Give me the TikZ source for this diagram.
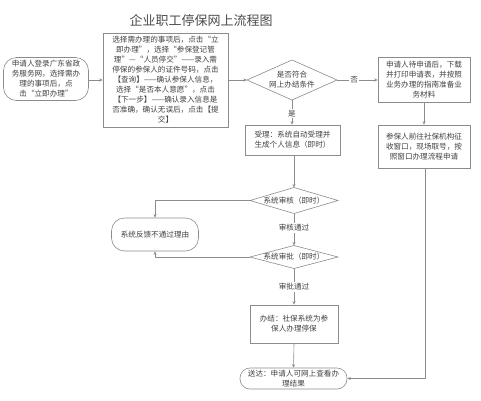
\documentclass[tikz,border=0pt]{standalone}
\usepackage{fontspec}
\setmainfont{Noto Sans CJK SC}
\usetikzlibrary{shapes.geometric,arrows.meta}
\begin{document}
\begin{tikzpicture}[x=1pt,y=-1pt,
  every node/.style={font=\fontsize{7.6}{10}\selectfont, text=black!75, align=center, inner sep=1pt},
  boxnode/.style={draw=black!45, line width=0.6pt, minimum width=#1},
  stadium/.style={draw=black!45, line width=0.6pt, rounded corners=13pt},
  dia/.style={draw=black!45, line width=0.6pt, diamond, inner sep=0pt, outer sep=0pt},
  conn/.style={draw=black!45, line width=0.6pt, -{Stealth[length=3.5pt,width=3pt]}},
  lbl/.style={fill=white, inner sep=1.5pt}]
\useasboundingbox (0,0) rectangle (481,400);
\node[font=\fontsize{13}{15}\selectfont, text=black!70] (title) at (201,20) {企业职工停保网上流程图};

\node[stadium, minimum width=85pt, minimum height=43pt] (n1) at (46,79)
  {申请人登录广东省政\\务服务网，选择需办\\理的事项后，点\\击“立即办理”};
\node[boxnode=125pt, minimum height=94pt] (n2) at (165.5,80)
  {选择需办理的事项后，点击“立\\即办理”，选择“参保登记管\\理”—“人员停交”——录入需\\停保的参保人的证件号码，点击\\【查询】——确认参保人信息，\\选择“是否本人意愿”，点击\\【下一步】——确认录入信息是\\否准确，确认无误后，点击【提\\交】};
\node[dia, minimum width=90pt, minimum height=40pt] (d1) at (292,80) {};
\node (d1t) at (d1.center) {是否符合\\网上办结条件};
\node[boxnode=92pt, minimum height=45pt] (r1) at (424,79.5)
  {申请人待申请后，下载\\并打印申请表，并按照\\业务办理的指南准备业\\务材料};
\node[boxnode=92pt, minimum height=43pt] (r2) at (424,146.5)
  {参保人前往社保机构征\\收窗口，现场取号，按\\照窗口办理流程申请};
\node[boxnode=95pt, minimum height=30pt] (s1) at (292.5,140)
  {受理：系统自动受理并\\生成个人信息（即时）};
\node[dia, minimum width=88pt, minimum height=26pt] (d2) at (294,200.5) {};
\node (d2t) at (d2.center) {系统审核（即时）};
\node[stadium, minimum width=87pt, minimum height=33pt] (fb) at (155,234.5)
  {系统反馈不通过理由};
\node[dia, minimum width=88pt, minimum height=23pt] (d3) at (294,257) {};
\node (d3t) at (d3.center) {系统审批（即时）};
\node[boxnode=88pt, minimum height=38pt] (bj) at (294,324)
  {办结：社保系统为参\\保人办理停保};
\node[stadium, rounded corners=10pt, minimum width=107pt, minimum height=21pt] (sd) at (293.5,378.5)
  {送达：申请人可网上查看办\\理结果};

\coordinate (c1) at (155,200.5);
\coordinate (c2) at (155,257);
\coordinate (c3) at (425,378.5);

\draw[conn] (n1.east |- 0,80) -- (n2.west |- 0,80);
\draw[conn] (n2.east |- d1) -- (d1.west);
\draw[conn] (d1.east) -- node[lbl, pos=0.42] {否} (r1.west |- d1);
\draw[conn] (r1.south) -- (r2.north);
\draw[conn] (d1.south) -- node[lbl, pos=0.55] {是} (s1.north -| d1);
\draw[conn] (s1.south -| d2) -- (d2.north);
\draw[conn] (d2.west) -- (c1) -- (fb.north);
\draw[conn] (d3.west) -- (c2) -- (fb.south);
\draw[conn] (d2.south) -- node[lbl, pos=0.45] {审核通过} (d3.north);
\draw[conn] (d3.south) -- node[lbl, pos=0.5] {审批通过} (bj.north);
\draw[conn] (bj.south) -- (sd.north);
\draw[conn] (r2.south -| c3) -- (c3) -- (sd.east);
\end{tikzpicture}
\end{document}
